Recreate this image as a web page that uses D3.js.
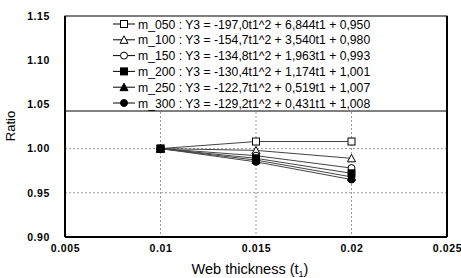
<!DOCTYPE html>
<html>
<head>
<meta charset="utf-8">
<script src="https://cdn.jsdelivr.net/npm/d3@7"></script>
<style>
  body { margin: 0; background: #fff; }
  svg { display: block; font-family: "Liberation Sans", Arial, sans-serif; }
</style>
</head>
<body>
<div id="chart"></div>
<script>
// data
let thickness = [0.01, 0.015, 0.02];
let seriesNames = ["m_050", "m_100", "m_150", "m_200", "m_250", "m_300"];
let m050 = [1.000, 1.008, 1.008];
let m100 = [1.000, 0.998, 0.989];
let m150 = [1.000, 0.992, 0.978];
let m200 = [1.000, 0.989, 0.972];
let m250 = [1.000, 0.987, 0.968];
let m300 = [1.000, 0.985, 0.965];
let equations = [
  "Y3 = -197,0t1^2 + 6,844t1 + 0,950",
  "Y3 = -154,7t1^2 + 3,540t1 + 0,980",
  "Y3 = -134,8t1^2 + 1,963t1 + 0,993",
  "Y3 = -130,4t1^2 + 1,174t1 + 1,001",
  "Y3 = -122,7t1^2 + 0,519t1 + 1,007",
  "Y3 = -129,2t1^2 + 0,431t1 + 1,008"
];
let markers = ["squareOpen", "triangleOpen", "circleOpen", "square", "triangle", "circle"];
let xTicks = [0.005, 0.01, 0.015, 0.02, 0.025];
let yTicks = [0.90, 0.95, 1.00, 1.05, 1.10, 1.15];

let svgWidth = 461;
let svgHeight = 278;
let margin = { top: 16, right: 14, bottom: 41, left: 65 };
let width = svgWidth - margin.left - margin.right;
let height = svgHeight - margin.top - margin.bottom;

let svg = d3.select("#chart")
  .append("svg")
  .attr("width", svgWidth)
  .attr("height", svgHeight);

let chartGroup = svg.append("g")
  .attr("transform", `translate(${margin.left}, ${margin.top})`);

let x = d3.scaleLinear().domain([0.005, 0.025]).range([0, width]);
let y = d3.scaleLinear().domain([0.90, 1.15]).range([height, 0]);

// grid
chartGroup.selectAll(".vgrid")
  .data([0.01, 0.015, 0.02])
  .enter().append("line")
  .attr("x1", d => x(d)).attr("x2", d => x(d))
  .attr("y1", 0).attr("y2", height)
  .attr("stroke", "#999").attr("stroke-dasharray", "2,2").attr("stroke-width", 1);

chartGroup.selectAll(".hgrid")
  .data([0.95, 1.00, 1.05, 1.10])
  .enter().append("line")
  .attr("x1", 0).attr("x2", width)
  .attr("y1", d => y(d)).attr("y2", d => y(d))
  .attr("stroke", "#999").attr("stroke-dasharray", "2,2").attr("stroke-width", 1);

// tick labels
let xAxis = d3.axisBottom(x).tickValues(xTicks).tickSize(0).tickPadding(8)
  .tickFormat(d => d3.format("")(+d.toFixed(3)));
let gx = chartGroup.append("g")
  .attr("transform", `translate(0, ${height})`)
  .call(xAxis);
gx.select(".domain").remove();
gx.selectAll("text").attr("font-size", 10.5).attr("font-weight", "bold")
  .attr("letter-spacing", 0.6).attr("fill", "#000");

let yAxis = d3.axisLeft(y).tickValues(yTicks).tickSize(0).tickPadding(15)
  .tickFormat(d3.format(".2f"));
let gy = chartGroup.append("g").call(yAxis);
gy.select(".domain").remove();
gy.selectAll("text").attr("font-size", 10.5).attr("font-weight", "bold")
  .attr("letter-spacing", 0.6).attr("fill", "#000");

// series
let allSeries = [m050, m100, m150, m200, m250, m300];
let line = d3.line().x((d, i) => x(thickness[i])).y(d => y(d));

function drawMarker(g, type, cx, cy) {
  let open = type.endsWith("Open");
  let fill = open ? "#fff" : "#000";
  if (type.startsWith("square")) {
    g.append("rect").attr("x", cx - 3.5).attr("y", cy - 3.5).attr("width", 7).attr("height", 7)
      .attr("fill", fill).attr("stroke", "#000").attr("stroke-width", 1);
  } else if (type.startsWith("triangle")) {
    g.append("path").attr("d", `M${cx},${cy - 4}L${cx + 4},${cy + 3.5}L${cx - 4},${cy + 3.5}Z`)
      .attr("fill", fill).attr("stroke", "#000").attr("stroke-width", 1);
  } else {
    g.append("circle").attr("cx", cx).attr("cy", cy).attr("r", 3.5)
      .attr("fill", fill).attr("stroke", "#000").attr("stroke-width", 1);
  }
}

allSeries.forEach(function(vals, k) {
  chartGroup.append("path")
    .datum(vals)
    .attr("d", line)
    .attr("fill", "none")
    .attr("stroke", "#444")
    .attr("stroke-width", 1);
});
allSeries.forEach(function(vals, k) {
  vals.forEach(function(v, i) {
    drawMarker(chartGroup, markers[k], x(thickness[i]), y(v));
  });
});

// legend box
let legendH = 95;
chartGroup.append("rect")
  .attr("x", 0).attr("y", 0).attr("width", width).attr("height", legendH)
  .attr("fill", "#fff").attr("stroke", "#000").attr("stroke-width", 1);

seriesNames.forEach(function(name, k) {
  let ly = 8 + k * 15.8;
  chartGroup.append("line")
    .attr("x1", 48).attr("x2", 70).attr("y1", ly).attr("y2", ly)
    .attr("stroke", "#000").attr("stroke-width", 1);
  drawMarker(chartGroup, markers[k], 59, ly);
  chartGroup.append("text")
    .attr("x", 73).attr("y", ly + 4.5)
    .attr("font-size", 12.2)
    .text(`${name} : ${equations[k]}`);
});

// frame
chartGroup.append("line").attr("x1", 0).attr("x2", 0).attr("y1", 0).attr("y2", height)
  .attr("stroke", "#000").attr("stroke-width", 2);
chartGroup.append("line").attr("x1", 0).attr("x2", width).attr("y1", height).attr("y2", height)
  .attr("stroke", "#000").attr("stroke-width", 2);
chartGroup.append("line").attr("x1", width).attr("x2", width).attr("y1", 0).attr("y2", height)
  .attr("stroke", "#000").attr("stroke-width", 2);

// axis titles
svg.append("text")
  .attr("x", margin.left + width / 2 - 6)
  .attr("y", 274)
  .attr("text-anchor", "middle")
  .attr("font-size", 14.5)
  .html("Web thickness (t<tspan font-size='9' dy='3'>1</tspan><tspan dy='-3'>)</tspan>");

svg.append("text")
  .attr("transform", "rotate(-90)")
  .attr("x", -126)
  .attr("y", 15)
  .attr("text-anchor", "middle")
  .attr("font-size", 13)
  .text("Ratio");
</script>
</body>
</html>
